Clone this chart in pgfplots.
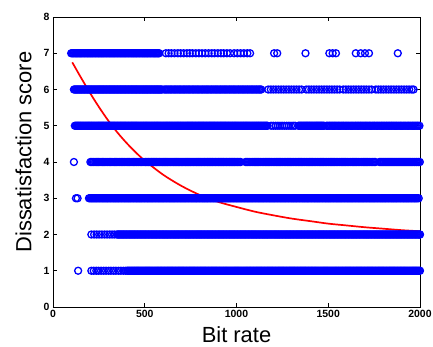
\documentclass[border=0pt]{standalone}
\usepackage{pgfplots}
\pgfplotsset{compat=1.18}
\usepackage{fontspec}
\setmainfont{Liberation Sans}
\pgfplotsset{dots/.style={only marks, mark=o, blue, mark size=3.5bp, mark options={line width=1.3bp}}}
\begin{document}
\begin{tikzpicture}
\begin{axis}[
  at={(0,0)}, anchor=south west,
  scale only axis, width=367bp, height=290bp,
  xmin=0, xmax=2000, ymin=0, ymax=8,
  xtick={0,500,1000,1500,2000}, ytick={0,1,2,3,4,5,6,7,8},
  tick align=inside, major tick length=4bp,
  axis line style={line width=0.8bp},
  tick style={line width=0.8bp, black},
  /pgf/number format/assume math mode=true,
  /pgf/number format/1000 sep={},
  scaled x ticks=false,
  tick label style={font=\fontsize{10.5}{12}\selectfont\bfseries},
  xlabel={Bit rate}, ylabel={Dissatisfaction score},
  label style={font=\fontsize{22}{26}\selectfont},
  xlabel style={at={(axis description cs:0.5,-0.124)}, anchor=base},
  ylabel style={at={(axis description cs:-0.08,0.534)}, anchor=center},
]
% level 1
\addplot[dots] coordinates {
(137,1)(209,1)(222,1)(236,1)(248,1)(262,1)(276,1)(289,1)(303,1)(316,1)(330,1)(343,1)(357,1)(370,1)(384,1)(396,1)
(405,1)(415,1)(425,1)(435,1)(445,1)(455,1)(465,1)(475,1)(485,1)(495,1)
(505,1)(515,1)(525,1)(535,1)(545,1)(555,1)(565,1)(575,1)(585,1)(595,1)
(605,1)(615,1)(625,1)(635,1)(645,1)(655,1)(665,1)(675,1)(685,1)(695,1)
(705,1)(715,1)(725,1)(735,1)(745,1)(755,1)(765,1)(775,1)(785,1)(795,1)
(805,1)(815,1)(825,1)(835,1)(845,1)(855,1)(865,1)(875,1)(885,1)(895,1)
(905,1)(915,1)(925,1)(935,1)(945,1)(955,1)(965,1)(975,1)(985,1)(995,1)
(1005,1)(1015,1)(1025,1)(1035,1)(1045,1)(1055,1)(1065,1)(1075,1)(1085,1)(1095,1)
(1105,1)(1115,1)(1125,1)(1135,1)(1145,1)(1155,1)(1165,1)(1175,1)(1185,1)(1195,1)
(1205,1)(1215,1)(1225,1)(1235,1)(1245,1)(1255,1)(1265,1)(1275,1)(1285,1)(1295,1)
(1305,1)(1315,1)(1325,1)(1335,1)(1345,1)(1355,1)(1365,1)(1375,1)(1385,1)(1395,1)
(1405,1)(1415,1)(1425,1)(1435,1)(1445,1)(1455,1)(1465,1)(1475,1)(1485,1)(1495,1)
(1505,1)(1515,1)(1525,1)(1535,1)(1545,1)(1555,1)(1565,1)(1575,1)(1585,1)(1595,1)
(1605,1)(1615,1)(1625,1)(1635,1)(1645,1)(1655,1)(1665,1)(1675,1)(1685,1)(1695,1)
(1705,1)(1715,1)(1725,1)(1735,1)(1745,1)(1755,1)(1765,1)(1775,1)(1785,1)(1795,1)
(1805,1)(1815,1)(1825,1)(1835,1)(1845,1)(1855,1)(1865,1)(1875,1)(1885,1)(1895,1)
(1905,1)(1915,1)(1925,1)(1935,1)(1945,1)(1955,1)(1965,1)(1975,1)(1985,1)(1995,1)(2000,1)
(410,1)(420,1)(430,1)(440,1)(450,1)(460,1)(470,1)(480,1)(490,1)(500,1)
(510,1)(520,1)(530,1)(540,1)(550,1)(560,1)(570,1)(580,1)(590,1)(600,1)
(610,1)(620,1)(630,1)(640,1)(650,1)(660,1)(670,1)(680,1)(690,1)(700,1)
(710,1)(720,1)(730,1)(740,1)(750,1)(760,1)(770,1)(780,1)(790,1)(800,1)
(810,1)(820,1)(830,1)(840,1)(850,1)(860,1)(870,1)(880,1)(890,1)(900,1)
(910,1)(920,1)(930,1)(940,1)(950,1)(960,1)(970,1)(980,1)(990,1)(1000,1)
(1010,1)(1020,1)(1030,1)(1040,1)(1050,1)(1060,1)(1070,1)(1080,1)(1090,1)(1100,1)
(1110,1)(1120,1)(1130,1)(1140,1)(1150,1)(1160,1)(1170,1)(1180,1)(1190,1)(1200,1)
(1210,1)(1220,1)(1230,1)(1240,1)(1250,1)(1260,1)(1270,1)(1280,1)(1290,1)(1300,1)
(1310,1)(1320,1)(1330,1)(1340,1)(1350,1)(1360,1)(1370,1)(1380,1)(1390,1)(1400,1)
(1410,1)(1420,1)(1430,1)(1440,1)(1450,1)(1460,1)(1470,1)(1480,1)(1490,1)(1500,1)
(1510,1)(1520,1)(1530,1)(1540,1)(1550,1)(1560,1)(1570,1)(1580,1)(1590,1)(1600,1)
(1610,1)(1620,1)(1630,1)(1640,1)(1650,1)(1660,1)(1670,1)(1680,1)(1690,1)(1700,1)
(1710,1)(1720,1)(1730,1)(1740,1)(1750,1)(1760,1)(1770,1)(1780,1)(1790,1)(1800,1)
(1810,1)(1820,1)(1830,1)(1840,1)(1850,1)(1860,1)(1870,1)(1880,1)(1890,1)(1900,1)
(1910,1)(1920,1)(1930,1)(1940,1)(1950,1)(1960,1)(1970,1)(1980,1)(1990,1)
};
% level 2
\addplot[dots] coordinates {
(209,2)(224,2)(238,2)(252,2)(266,2)(281,2)(295,2)(309,2)(322,2)(335,2)
(348,2)(358,2)(368,2)(378,2)(388,2)(398,2)
(408,2)(418,2)(428,2)(438,2)(448,2)(458,2)(468,2)(478,2)(488,2)(498,2)
(508,2)(518,2)(528,2)(538,2)(548,2)(558,2)(568,2)(578,2)(588,2)(598,2)
(608,2)(618,2)(628,2)(638,2)(648,2)(658,2)(668,2)(678,2)(688,2)(698,2)
(708,2)(718,2)(728,2)(738,2)(748,2)(758,2)(768,2)(778,2)(788,2)(798,2)
(808,2)(818,2)(828,2)(838,2)(848,2)(858,2)(868,2)(878,2)(888,2)(898,2)
(908,2)(918,2)(928,2)(938,2)(948,2)(958,2)(968,2)(978,2)(988,2)(998,2)
(1008,2)(1018,2)(1028,2)(1038,2)(1048,2)(1058,2)(1068,2)(1078,2)(1088,2)(1098,2)
(1108,2)(1118,2)(1128,2)(1138,2)(1148,2)(1158,2)(1168,2)(1178,2)(1188,2)(1198,2)
(1208,2)(1218,2)(1228,2)(1238,2)(1248,2)(1258,2)(1268,2)(1278,2)(1288,2)(1298,2)
(1308,2)(1318,2)(1328,2)(1338,2)(1348,2)(1358,2)(1368,2)(1378,2)(1388,2)(1398,2)
(1408,2)(1418,2)(1428,2)(1438,2)(1448,2)(1458,2)(1468,2)(1478,2)(1488,2)(1498,2)
(1508,2)(1518,2)(1528,2)(1538,2)(1548,2)(1558,2)(1568,2)(1578,2)(1588,2)(1598,2)
(1608,2)(1618,2)(1628,2)(1638,2)(1648,2)(1658,2)(1668,2)(1678,2)(1688,2)(1698,2)
(1708,2)(1718,2)(1728,2)(1738,2)(1748,2)(1758,2)(1768,2)(1778,2)(1788,2)(1798,2)
(1808,2)(1818,2)(1828,2)(1838,2)(1848,2)(1858,2)(1868,2)(1878,2)(1888,2)(1898,2)
(1908,2)(1918,2)(1928,2)(1938,2)(1948,2)(1958,2)(1968,2)(1978,2)(1988,2)(1998,2)(2000,2)
(353,2)(363,2)(373,2)(383,2)(393,2)
(403,2)(413,2)(423,2)(433,2)(443,2)(453,2)(463,2)(473,2)(483,2)(493,2)
(503,2)(513,2)(523,2)(533,2)(543,2)(553,2)(563,2)(573,2)(583,2)(593,2)
(603,2)(613,2)(623,2)(633,2)(643,2)(653,2)(663,2)(673,2)(683,2)(693,2)
(703,2)(713,2)(723,2)(733,2)(743,2)(753,2)(763,2)(773,2)(783,2)(793,2)
(803,2)(813,2)(823,2)(833,2)(843,2)(853,2)(863,2)(873,2)(883,2)(893,2)
(903,2)(913,2)(923,2)(933,2)(943,2)(953,2)(963,2)(973,2)(983,2)(993,2)
(1003,2)(1013,2)(1023,2)(1033,2)(1043,2)(1053,2)(1063,2)(1073,2)(1083,2)(1093,2)
(1103,2)(1113,2)(1123,2)(1133,2)(1143,2)(1153,2)(1163,2)(1173,2)(1183,2)(1193,2)
(1203,2)(1213,2)(1223,2)(1233,2)(1243,2)(1253,2)(1263,2)(1273,2)(1283,2)(1293,2)
(1303,2)(1313,2)(1323,2)(1333,2)(1343,2)(1353,2)(1363,2)(1373,2)(1383,2)(1393,2)
(1403,2)(1413,2)(1423,2)(1433,2)(1443,2)(1453,2)(1463,2)(1473,2)(1483,2)(1493,2)
(1503,2)(1513,2)(1523,2)(1533,2)(1543,2)(1553,2)(1563,2)(1573,2)(1583,2)(1593,2)
(1603,2)(1613,2)(1623,2)(1633,2)(1643,2)(1653,2)(1663,2)(1673,2)(1683,2)(1693,2)
(1703,2)(1713,2)(1723,2)(1733,2)(1743,2)(1753,2)(1763,2)(1773,2)(1783,2)(1793,2)
(1803,2)(1813,2)(1823,2)(1833,2)(1843,2)(1853,2)(1863,2)(1873,2)(1883,2)(1893,2)
(1903,2)(1913,2)(1923,2)(1933,2)(1943,2)(1953,2)(1963,2)(1973,2)(1983,2)(1993,2)
};
% level 3
\addplot[dots] coordinates {
(125,3)(134,3)(196,3)
(206,3)(216,3)(226,3)(236,3)(246,3)(256,3)(266,3)(276,3)(286,3)(296,3)
(306,3)(316,3)(326,3)(336,3)(346,3)(356,3)(366,3)(376,3)(386,3)(396,3)
(406,3)(416,3)(426,3)(436,3)(446,3)(456,3)(466,3)(476,3)(486,3)(496,3)
(506,3)(516,3)(526,3)(536,3)(546,3)(556,3)(566,3)(576,3)(586,3)(596,3)
(606,3)(616,3)(626,3)(636,3)(646,3)(656,3)(666,3)(676,3)(686,3)(696,3)
(706,3)(716,3)(726,3)(736,3)(746,3)(756,3)(766,3)(776,3)(786,3)(796,3)
(806,3)(816,3)(826,3)(836,3)(846,3)(856,3)(866,3)(876,3)(886,3)(896,3)
(906,3)(916,3)(926,3)(936,3)(946,3)(956,3)(966,3)(976,3)(986,3)(996,3)
(1006,3)(1016,3)(1026,3)(1036,3)(1046,3)(1056,3)(1066,3)(1076,3)(1086,3)(1096,3)
(1106,3)(1116,3)(1126,3)(1136,3)(1146,3)(1156,3)(1166,3)(1176,3)(1186,3)(1196,3)
(1206,3)(1216,3)(1226,3)(1236,3)(1246,3)(1256,3)(1266,3)(1276,3)(1286,3)(1296,3)
(1306,3)(1316,3)(1326,3)(1336,3)(1346,3)(1356,3)(1366,3)(1376,3)(1386,3)(1396,3)
(1406,3)(1416,3)(1426,3)(1436,3)(1446,3)(1456,3)(1466,3)(1476,3)(1486,3)(1496,3)
(1506,3)(1516,3)(1526,3)(1536,3)(1546,3)(1556,3)(1566,3)(1576,3)(1586,3)(1596,3)
(1606,3)(1616,3)(1626,3)(1636,3)(1646,3)(1656,3)(1666,3)(1676,3)(1686,3)(1696,3)
(1706,3)(1716,3)(1726,3)(1736,3)(1746,3)(1756,3)(1766,3)(1776,3)(1786,3)(1796,3)
(1806,3)(1816,3)(1826,3)(1836,3)(1846,3)(1856,3)(1866,3)(1876,3)(1886,3)(1896,3)
(1906,3)(1916,3)(1926,3)(1936,3)(1946,3)(1956,3)(1966,3)(1976,3)(1986,3)(1993,3)
(201,3)(211,3)(221,3)(231,3)(241,3)(251,3)(261,3)(271,3)(281,3)(291,3)
(301,3)(311,3)(321,3)(331,3)(341,3)(351,3)(361,3)(371,3)(381,3)(391,3)
(401,3)(411,3)(421,3)(431,3)(441,3)(451,3)(461,3)(471,3)(481,3)(491,3)
(501,3)(511,3)(521,3)(531,3)(541,3)(551,3)(561,3)(571,3)(581,3)(591,3)
(601,3)(611,3)(621,3)(631,3)(641,3)(651,3)(661,3)(671,3)(681,3)(691,3)
(701,3)(711,3)(721,3)(731,3)(741,3)(751,3)(761,3)(771,3)(781,3)(791,3)
(801,3)(811,3)(821,3)(831,3)(841,3)(851,3)(861,3)(871,3)(881,3)(891,3)
(901,3)(911,3)(921,3)(931,3)(941,3)(951,3)(961,3)(971,3)(981,3)(991,3)
(1001,3)(1011,3)(1021,3)(1031,3)(1041,3)(1051,3)(1061,3)(1071,3)(1081,3)(1091,3)
(1101,3)(1111,3)(1121,3)(1131,3)(1141,3)(1151,3)(1161,3)(1171,3)(1181,3)(1191,3)
(1201,3)(1211,3)(1221,3)(1231,3)(1241,3)(1251,3)(1261,3)(1271,3)(1281,3)(1291,3)
(1301,3)(1311,3)(1321,3)(1331,3)(1341,3)(1351,3)(1361,3)(1371,3)(1381,3)(1391,3)
(1401,3)(1411,3)(1421,3)(1431,3)(1441,3)(1451,3)(1461,3)(1471,3)(1481,3)(1491,3)
(1501,3)(1511,3)(1521,3)(1531,3)(1541,3)(1551,3)(1561,3)(1571,3)(1581,3)(1591,3)
(1601,3)(1611,3)(1621,3)(1631,3)(1641,3)(1651,3)(1661,3)(1671,3)(1681,3)(1691,3)
(1701,3)(1711,3)(1721,3)(1731,3)(1741,3)(1751,3)(1761,3)(1771,3)(1781,3)(1791,3)
(1801,3)(1811,3)(1821,3)(1831,3)(1841,3)(1851,3)(1861,3)(1871,3)(1881,3)(1891,3)
(1901,3)(1911,3)(1921,3)(1931,3)(1941,3)(1951,3)(1961,3)(1971,3)(1981,3)
};
% level 4
\addplot[dots] coordinates {
(114,4)
(204,4)(217,4)(230,4)(243,4)(256,4)(269,4)(282,4)(295,4)(308,4)(321,4)(334,4)(347,4)
(360,4)(373,4)(386,4)(399,4)(412,4)(425,4)(438,4)(451,4)(464,4)(477,4)(490,4)
(210,4)(223,4)(236,4)(249,4)(262,4)(275,4)(288,4)(301,4)(314,4)(327,4)(340,4)(353,4)
(366,4)(379,4)(392,4)(405,4)(418,4)(431,4)(444,4)(457,4)(470,4)(483,4)(496,4)
(503,4)(513,4)(523,4)(533,4)(543,4)(553,4)(563,4)(573,4)(583,4)(593,4)
(603,4)(613,4)(623,4)(633,4)(643,4)(653,4)(663,4)(673,4)(683,4)(693,4)
(703,4)(713,4)(723,4)(733,4)(743,4)(753,4)(763,4)(773,4)(783,4)(793,4)
(803,4)(813,4)(823,4)(833,4)(843,4)(853,4)(863,4)(873,4)(883,4)(893,4)
(903,4)(913,4)(923,4)(933,4)(943,4)(953,4)(963,4)(973,4)(983,4)(993,4)
(1003,4)(1013,4)(1023,4)
(508,4)(518,4)(528,4)(538,4)(548,4)(558,4)(568,4)(578,4)(588,4)(598,4)
(608,4)(618,4)(628,4)(638,4)(648,4)(658,4)(668,4)(678,4)(688,4)(698,4)
(708,4)(718,4)(728,4)(738,4)(748,4)(758,4)(768,4)(778,4)(788,4)(798,4)
(808,4)(818,4)(828,4)(838,4)(848,4)(858,4)(868,4)(878,4)(888,4)(898,4)
(908,4)(918,4)(928,4)(938,4)(948,4)(958,4)(968,4)(978,4)(988,4)(998,4)
(1008,4)(1018,4)
(1049,4)(1061,4)(1073,4)(1085,4)(1097,4)(1109,4)(1121,4)(1133,4)(1145,4)(1157,4)
(1169,4)(1181,4)(1193,4)(1205,4)(1217,4)(1229,4)(1241,4)(1253,4)(1265,4)(1277,4)
(1289,4)(1301,4)(1313,4)(1325,4)(1337,4)(1349,4)(1361,4)(1373,4)(1385,4)(1397,4)
(1409,4)(1421,4)(1433,4)(1445,4)(1457,4)(1469,4)(1481,4)(1493,4)(1505,4)(1517,4)
(1529,4)(1541,4)(1553,4)(1565,4)(1577,4)(1589,4)(1601,4)(1613,4)(1625,4)(1637,4)
(1649,4)(1661,4)(1673,4)(1685,4)(1697,4)(1709,4)(1721,4)(1733,4)(1745,4)(1757,4)
(1055,4)(1067,4)(1079,4)(1091,4)(1103,4)(1115,4)(1127,4)(1139,4)(1151,4)(1163,4)
(1175,4)(1187,4)(1199,4)(1211,4)(1223,4)(1235,4)(1247,4)(1259,4)(1271,4)(1283,4)
(1295,4)(1307,4)(1319,4)(1331,4)(1343,4)(1355,4)(1367,4)(1379,4)(1391,4)(1403,4)
(1415,4)(1427,4)(1439,4)(1451,4)(1463,4)(1475,4)(1487,4)(1499,4)(1511,4)(1523,4)
(1535,4)(1547,4)(1559,4)(1571,4)(1583,4)(1595,4)(1607,4)(1619,4)(1631,4)(1643,4)
(1655,4)(1667,4)(1679,4)(1691,4)(1703,4)(1715,4)(1727,4)(1739,4)(1751,4)
(1779,4)(1790,4)(1801,4)(1812,4)(1823,4)(1834,4)(1845,4)(1856,4)(1867,4)(1878,4)
(1889,4)(1900,4)(1911,4)(1922,4)(1933,4)(1944,4)(1955,4)(1966,4)(1977,4)(1988,4)(1999,4)
(1784,4)(1795,4)(1806,4)(1817,4)(1828,4)(1839,4)(1850,4)(1861,4)(1872,4)(1883,4)
(1894,4)(1905,4)(1916,4)(1927,4)(1938,4)(1949,4)(1960,4)(1971,4)(1982,4)(1993,4)
};
% level 5
\addplot[dots] coordinates {
(119,5)(129,5)(139,5)(149,5)(159,5)(169,5)(179,5)(189,5)(199,5)
(209,5)(219,5)(229,5)(239,5)(249,5)(259,5)(269,5)(279,5)(289,5)(299,5)
(309,5)(319,5)(329,5)(339,5)(349,5)(359,5)(369,5)(379,5)(389,5)(399,5)
(409,5)(419,5)(429,5)(439,5)(449,5)(459,5)(469,5)(479,5)(489,5)(499,5)
(509,5)(519,5)(529,5)(539,5)(549,5)(559,5)(569,5)(579,5)(589,5)(599,5)
(609,5)(619,5)(629,5)(639,5)(649,5)(659,5)(669,5)(679,5)(689,5)(699,5)
(709,5)(719,5)(729,5)(739,5)(749,5)(759,5)(769,5)(779,5)(789,5)(799,5)
(809,5)(819,5)(829,5)(839,5)(849,5)(859,5)(869,5)(879,5)(889,5)(899,5)
(909,5)(919,5)(929,5)(939,5)(949,5)(959,5)(969,5)(979,5)(989,5)(999,5)
(1009,5)(1019,5)(1029,5)(1039,5)(1049,5)(1059,5)(1069,5)(1079,5)(1089,5)(1099,5)
(1109,5)(1119,5)(1129,5)(1139,5)(1149,5)(1159,5)(1169,5)
(124,5)(134,5)(144,5)(154,5)(164,5)(174,5)(184,5)(194,5)
(204,5)(214,5)(224,5)(234,5)(244,5)(254,5)(264,5)(274,5)(284,5)(294,5)
(304,5)(314,5)(324,5)(334,5)(344,5)(354,5)(364,5)(374,5)(384,5)(394,5)
(404,5)(414,5)(424,5)(434,5)(444,5)(454,5)(464,5)(474,5)(484,5)(494,5)
(504,5)(514,5)(524,5)(534,5)(544,5)(554,5)(564,5)(574,5)(584,5)(594,5)
(604,5)(614,5)(624,5)(634,5)(644,5)(654,5)(664,5)(674,5)(684,5)(694,5)
(704,5)(714,5)(724,5)(734,5)(744,5)(754,5)(764,5)(774,5)(784,5)(794,5)
(804,5)(814,5)(824,5)(834,5)(844,5)(854,5)(864,5)(874,5)(884,5)(894,5)
(904,5)(914,5)(924,5)(934,5)(944,5)(954,5)(964,5)(974,5)(984,5)(994,5)
(1004,5)(1014,5)(1024,5)(1034,5)(1044,5)(1054,5)(1064,5)(1074,5)(1084,5)(1094,5)
(1104,5)(1114,5)(1124,5)(1134,5)(1144,5)(1154,5)(1164,5)
(1189,5)(1201,5)(1213,5)(1225,5)(1237,5)(1249,5)(1261,5)(1273,5)(1285,5)(1297,5)(1309,5)(1319,5)
(1337,5)(1347,5)(1357,5)(1367,5)(1377,5)(1387,5)(1397,5)(1407,5)(1417,5)(1427,5)
(1437,5)(1447,5)(1457,5)(1467,5)(1477,5)
(1342,5)(1352,5)(1362,5)(1372,5)(1382,5)(1392,5)(1402,5)(1412,5)(1422,5)(1432,5)
(1442,5)(1452,5)(1462,5)(1472,5)
(1490,5)(1503,5)(1516,5)(1529,5)(1542,5)(1555,5)(1568,5)(1581,5)(1594,5)(1607,5)
(1620,5)(1633,5)(1646,5)(1659,5)(1672,5)(1685,5)(1698,5)(1711,5)(1724,5)(1737,5)
(1750,5)(1763,5)(1776,5)(1789,5)(1802,5)(1815,5)(1828,5)(1841,5)(1854,5)(1867,5)
(1880,5)(1893,5)(1906,5)(1919,5)(1932,5)(1945,5)(1958,5)(1971,5)(1984,5)(1997,5)
(1496,5)(1509,5)(1522,5)(1535,5)(1548,5)(1561,5)(1574,5)(1587,5)(1600,5)(1613,5)
(1626,5)(1639,5)(1652,5)(1665,5)(1678,5)(1691,5)(1704,5)(1717,5)(1730,5)(1743,5)
(1756,5)(1769,5)(1782,5)(1795,5)(1808,5)(1821,5)(1834,5)(1847,5)(1860,5)(1873,5)
(1886,5)(1899,5)(1912,5)(1925,5)(1938,5)(1951,5)(1964,5)(1977,5)(1990,5)
};
% level 6
\addplot[dots] coordinates {
(114,6)(124,6)(134,6)(144,6)(154,6)(164,6)(174,6)(184,6)(194,6)
(204,6)(214,6)(224,6)(234,6)(244,6)(254,6)(264,6)(274,6)(284,6)(294,6)
(304,6)(314,6)(324,6)(334,6)(344,6)(354,6)(364,6)(374,6)(384,6)(394,6)
(404,6)(414,6)(424,6)(434,6)(444,6)(454,6)(464,6)(474,6)(484,6)(494,6)
(504,6)(514,6)(524,6)(534,6)(544,6)(554,6)(564,6)(574,6)(584,6)(594,6)
(119,6)(129,6)(139,6)(149,6)(159,6)(169,6)(179,6)(189,6)(199,6)
(209,6)(219,6)(229,6)(239,6)(249,6)(259,6)(269,6)(279,6)(289,6)(299,6)
(309,6)(319,6)(329,6)(339,6)(349,6)(359,6)(369,6)(379,6)(389,6)(399,6)
(409,6)(419,6)(429,6)(439,6)(449,6)(459,6)(469,6)(479,6)(489,6)(499,6)
(509,6)(519,6)(529,6)(539,6)(549,6)(559,6)(569,6)(579,6)(589,6)
(605,6)(619,6)(633,6)(647,6)(661,6)(675,6)(689,6)(703,6)(717,6)(731,6)
(745,6)(759,6)(773,6)(787,6)(801,6)(815,6)(829,6)(843,6)(857,6)(871,6)
(885,6)(899,6)(913,6)(927,6)(941,6)(955,6)(969,6)(983,6)(997,6)(1011,6)
(1025,6)(1039,6)(1053,6)(1067,6)(1081,6)(1095,6)(1109,6)(1123,6)(1135,6)
(612,6)(626,6)(640,6)(654,6)(668,6)(682,6)(696,6)(710,6)(724,6)(738,6)
(752,6)(766,6)(780,6)(794,6)(808,6)(822,6)(836,6)(850,6)(864,6)(878,6)
(892,6)(906,6)(920,6)(934,6)(948,6)(962,6)(976,6)(990,6)(1004,6)(1018,6)
(1032,6)(1046,6)(1060,6)(1074,6)(1088,6)(1102,6)(1116,6)(1129,6)
(1173,6)(1187,6)(1201,6)(1215,6)(1229,6)(1243,6)(1257,6)(1271,6)(1285,6)(1299,6)
(1313,6)(1327,6)(1341,6)(1355,6)
(1380,6)(1394,6)(1408,6)(1422,6)(1436,6)(1450,6)(1464,6)(1478,6)(1492,6)(1506,6)
(1520,6)(1534,6)(1548,6)(1562,6)
(1582,6)(1596,6)(1610,6)(1624,6)(1638,6)(1652,6)(1666,6)(1680,6)(1694,6)(1708,6)
(1722,6)(1736,6)
(1759,6)(1773,6)(1787,6)(1801,6)(1815,6)(1829,6)(1843,6)(1857,6)(1871,6)(1885,6)
(1899,6)(1913,6)(1927,6)(1941,6)(1955,6)(1965,6)
};
% level 7
\addplot[dots] coordinates {
(99,7)(109,7)(119,7)(129,7)(139,7)(149,7)(159,7)(169,7)(179,7)(189,7)(199,7)
(209,7)(219,7)(229,7)(239,7)(249,7)(259,7)(269,7)(279,7)(289,7)(299,7)
(309,7)(319,7)(329,7)(339,7)(349,7)(359,7)(369,7)(379,7)(389,7)(399,7)
(409,7)(419,7)(429,7)(439,7)(449,7)(459,7)(469,7)(479,7)(489,7)(499,7)
(509,7)(519,7)(529,7)(539,7)(549,7)(559,7)(569,7)(579,7)
(104,7)(114,7)(124,7)(134,7)(144,7)(154,7)(164,7)(174,7)(184,7)(194,7)
(204,7)(214,7)(224,7)(234,7)(244,7)(254,7)(264,7)(274,7)(284,7)(294,7)
(304,7)(314,7)(324,7)(334,7)(344,7)(354,7)(364,7)(374,7)(384,7)(394,7)
(404,7)(414,7)(424,7)(434,7)(444,7)(454,7)(464,7)(474,7)(484,7)(494,7)
(504,7)(514,7)(524,7)(534,7)(544,7)(554,7)(564,7)(574,7)
(615,7)(630,7)(645,7)(662,7)(680,7)(695,7)(712,7)(730,7)(745,7)(760,7)
(778,7)(795,7)(812,7)(830,7)(848,7)(865,7)(880,7)(898,7)(915,7)(930,7)
(948,7)(965,7)(987,7)(1005,7)(1022,7)(1040,7)(1059,7)(1074,7)
(1205,7)(1222,7)(1376,7)(1506,7)(1524,7)(1542,7)(1650,7)(1677,7)(1700,7)(1722,7)(1879,7)
};
% fitted curve
\addplot[red, line width=1.7bp, smooth, mark=none] coordinates {
(105,6.75)(150,6.35)(200,5.92)(250,5.52)(300,5.15)(350,4.82)(400,4.53)(450,4.27)(500,4.04)
(600,3.65)(700,3.34)(800,3.09)(900,2.9)(1000,2.76)(1100,2.63)(1200,2.53)(1300,2.44)
(1400,2.37)(1500,2.3)(1600,2.25)(1700,2.2)(1800,2.16)(1900,2.12)(2000,2.09)
};
\end{axis}
\pgfresetboundingbox
\useasboundingbox (-53bp,-40bp) rectangle (380bp,307bp);
\end{tikzpicture}
\end{document}
